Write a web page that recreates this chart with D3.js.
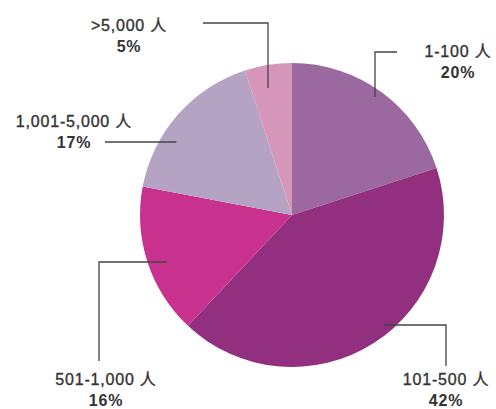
<!DOCTYPE html>
<html>
<head>
<meta charset="utf-8">
<script src="https://cdn.jsdelivr.net/npm/d3@7"></script>
<style>
  body { margin: 0; background: #fff; }
  text { font-family: "Liberation Sans", Arial, "Noto Sans CJK SC", sans-serif; fill: #333; font-size: 16px; letter-spacing: 0.8px; }
  .name { stroke: #333; stroke-width: 0.35px; }
  .pct { font-weight: bold; }
  .leader { fill: none; stroke: #444; stroke-width: 1.3; }
</style>
</head>
<body>
<script>
// Company size categories and their share, clockwise from 12 o'clock.
var categories = ["1-100 人", "101-500 人", "501-1,000 人", "1,001-5,000 人", ">5,000 人"];
var shares = [20, 42, 16, 17, 5];
var colors = ["#9c68a0", "#92307f", "#c9318f", "#b4a3c3", "#d596ba"];

var width = 496, height = 409;
var cx = 292, cy = 215, radius = 152;

var svg = d3.select("body").append("svg")
    .attr("width", width)
    .attr("height", height);

var data = categories.map((c, i) => ({ name: c, value: shares[i], color: colors[i] }));

var pie = d3.pie().value(d => d.value).sort(null);
var arc = d3.arc().innerRadius(0).outerRadius(radius);
var arcs = pie(data);

var g = svg.append("g").attr("transform", `translate(${cx},${cy})`);

g.selectAll("path")
    .data(arcs)
    .join("path")
    .attr("d", arc)
    .attr("fill", d => d.data.color);

// Label layout: where the leader touches the slice (fraction along the slice
// angle, fraction of the radius), the elbow and end of the leader, and the
// label anchor. Hand placed to match the picture.
var labelLayout = [
    { f: 0.49, r: 0.95, elbow: [375, 52], end: [397, 52], text: [458, 57] },
    { f: 0.45, r: 0.94, elbow: [446, 325], end: [446, 366], text: [446, 385] },
    { f: 0.455, r: 0.88, elbow: [99, 262], end: [99, 361], text: [106, 385] },
    { f: 0.35, r: 0.90, elbow: [105, 142], end: null, text: [74, 127] },
    { f: 0.41, r: 0.85, elbow: [268, 23], end: [203, 23], text: [129, 31] }
];

arcs.forEach((d, i) => {
    var L = labelLayout[i];
    var a = d.startAngle + (d.endAngle - d.startAngle) * L.f;
    var px = cx + Math.sin(a) * radius * L.r;
    var py = cy - Math.cos(a) * radius * L.r;
    var vertical = (i === 0 || i === 4);
    var pts = vertical ? [[L.elbow[0], py], L.elbow] : [[px, L.elbow[1]], L.elbow];
    if (L.end) pts.push(L.end);
    svg.append("path")
        .attr("class", "leader")
        .attr("d", d3.line()(pts));

    var t = svg.append("text")
        .attr("x", L.text[0])
        .attr("y", L.text[1])
        .attr("text-anchor", "middle");
    t.append("tspan")
        .attr("class", "name")
        .attr("x", L.text[0])
        .text(d.data.name);
    t.append("tspan")
        .attr("class", "pct")
        .attr("x", L.text[0])
        .attr("dy", 21)
        .text(d.data.value + "%");
});
</script>
</body>
</html>
